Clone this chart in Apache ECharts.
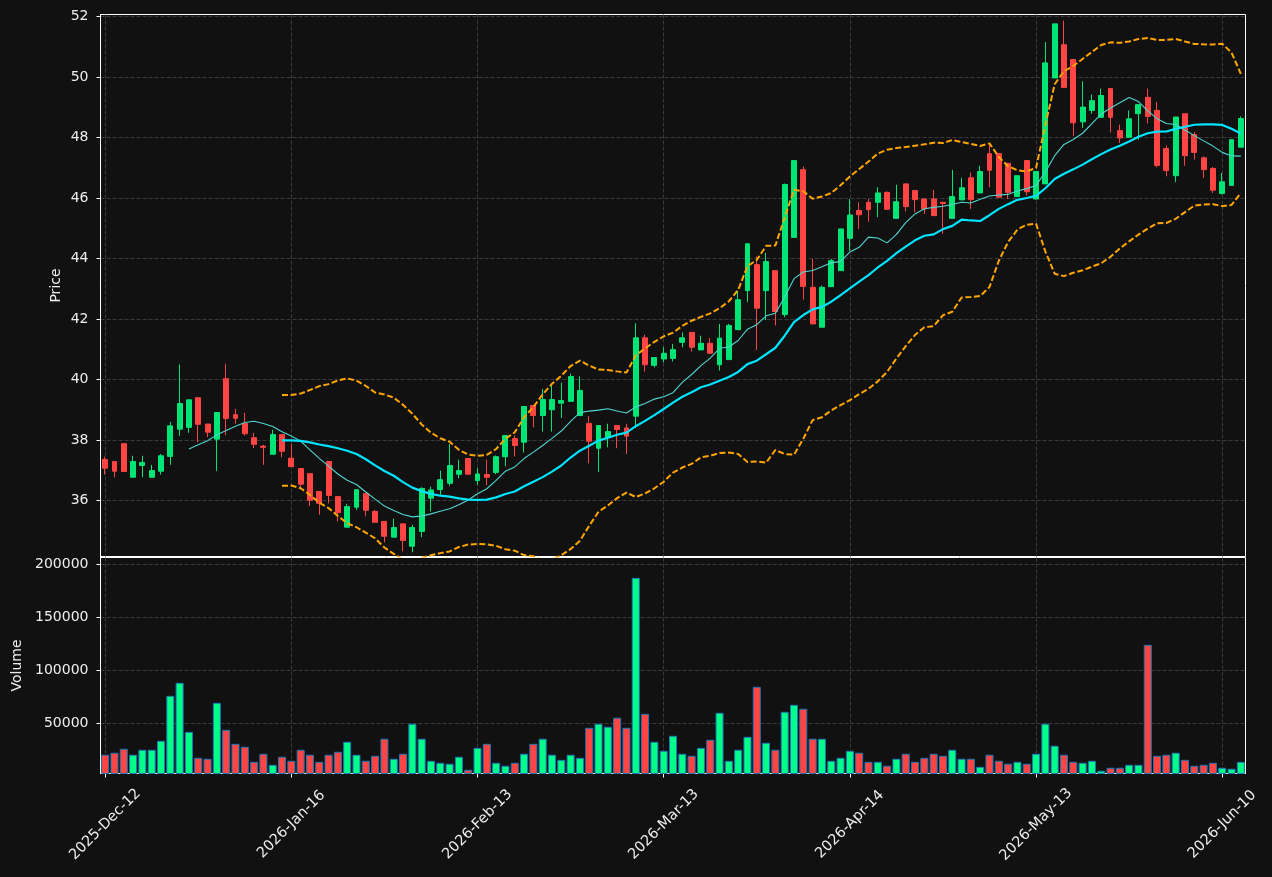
<!DOCTYPE html>
<html>
<head>
<meta charset="utf-8">
<title>Price and Volume</title>
<script src="https://cdn.jsdelivr.net/npm/echarts@6/dist/echarts.min.js"></script>
<style>
  html, body { margin: 0; padding: 0; background: #111111; }
  #chart { width: 1272px; height: 877px; }
</style>
</head>
<body>
<div id="chart"></div>
<script>
// daily OHLC
const opens = [
  37.36, 37.29, 37.88, 36.77, 37.16, 36.77, 36.97, 37.46, 38.36, 38.42,
  39.40, 38.53, 38.03, 40.03, 38.84, 38.55, 38.08, 37.80, 37.53, 38.18,
  37.40, 37.06, 36.89, 36.30, 37.29, 36.13, 35.12, 35.78, 36.23, 35.64,
  35.31, 34.79, 35.23, 34.49, 34.98, 36.08, 36.36, 36.57, 36.87, 37.39,
  36.66, 36.86, 36.93, 37.45, 38.05, 37.93, 39.14, 38.81, 39.00, 39.22,
  39.28, 38.81, 38.55, 37.73, 38.09, 38.48, 38.40, 38.79, 41.38, 40.47,
  40.68, 40.70, 41.23, 41.56, 40.98, 41.20, 40.49, 40.66, 41.65, 42.94,
  43.80, 42.94, 43.60, 42.15, 44.70, 46.94, 43.05, 41.73, 43.07, 43.60,
  44.67, 45.59, 45.86, 45.86, 46.19, 45.33, 46.47, 46.25, 45.97, 45.97,
  45.86, 45.33, 45.94, 46.67, 46.17, 47.47, 47.47, 47.15, 46.05, 47.24,
  45.97, 46.47, 49.97, 51.07, 50.58, 48.52, 48.90, 48.67, 49.62, 48.23,
  48.01, 48.79, 49.33, 48.90, 47.64, 46.74, 48.79, 48.10, 47.33, 46.98,
  46.15, 46.42, 47.68
];
const highs = [
  37.45, 37.30, 37.88, 37.48, 37.48, 37.18, 37.54, 38.60, 40.50, 39.33,
  39.40, 38.53, 38.91, 40.52, 39.03, 38.90, 38.24, 37.84, 38.34, 38.18,
  37.87, 37.06, 36.89, 36.30, 37.29, 36.13, 35.89, 36.36, 36.23, 35.69,
  35.31, 35.40, 35.23, 35.20, 36.44, 36.46, 36.99, 37.87, 37.35, 37.39,
  37.07, 37.35, 37.49, 38.15, 38.15, 39.11, 39.14, 39.69, 39.86, 39.90,
  40.19, 40.10, 38.79, 38.48, 38.54, 38.48, 38.54, 41.86, 41.48, 40.74,
  41.07, 41.18, 41.56, 41.56, 41.45, 41.38, 41.84, 41.84, 42.94, 44.49,
  44.07, 44.19, 43.60, 46.48, 47.24, 47.04, 43.99, 43.11, 43.99, 44.98,
  45.97, 45.86, 45.97, 46.36, 46.22, 46.44, 46.47, 46.25, 45.97, 46.27,
  45.86, 46.93, 46.67, 46.85, 47.07, 47.79, 47.47, 47.15, 46.74, 47.24,
  46.88, 51.16, 51.76, 51.87, 50.58, 49.86, 49.42, 49.62, 49.62, 48.43,
  48.90, 49.09, 49.62, 49.18, 47.74, 48.68, 48.79, 48.19, 47.38, 47.03,
  46.83, 47.93, 48.70
];
const lows = [
  36.86, 36.77, 36.94, 36.77, 36.77, 36.77, 36.86, 37.18, 38.14, 38.24,
  37.93, 38.10, 36.98, 38.16, 38.54, 38.15, 37.73, 37.18, 37.53, 37.43,
  37.12, 36.39, 35.82, 35.53, 35.91, 35.31, 35.12, 35.69, 35.48, 35.28,
  34.62, 34.79, 34.32, 34.29, 34.79, 35.64, 36.19, 36.49, 36.74, 36.87,
  36.52, 36.50, 36.87, 37.13, 37.46, 37.59, 38.42, 38.28, 38.28, 38.73,
  39.28, 38.81, 37.23, 36.94, 37.76, 37.73, 37.54, 38.40, 40.26, 40.40,
  40.57, 40.60, 41.07, 40.93, 40.98, 40.87, 40.30, 40.66, 41.65, 42.56,
  40.98, 41.97, 41.79, 42.06, 44.70, 42.64, 41.84, 41.73, 43.07, 43.60,
  44.26, 44.98, 45.22, 45.37, 45.61, 45.33, 45.56, 45.53, 45.48, 45.42,
  44.82, 45.33, 45.94, 45.64, 46.17, 46.36, 46.00, 45.97, 46.05, 46.08,
  45.95, 46.47, 49.97, 49.66, 48.05, 48.32, 48.79, 48.67, 48.17, 47.82,
  48.01, 47.93, 48.47, 47.02, 46.72, 46.53, 47.07, 47.27, 46.67, 46.17,
  46.12, 46.42, 47.68
];
const closes = [
  37.07, 36.97, 36.96, 37.29, 37.26, 36.99, 37.48, 38.47, 39.21, 39.33,
  38.52, 38.26, 38.91, 38.71, 38.72, 38.21, 37.86, 37.76, 38.18, 37.63,
  37.12, 36.54, 36.01, 35.91, 36.17, 35.60, 35.80, 36.36, 35.68, 35.28,
  34.82, 35.11, 34.68, 35.11, 36.40, 36.35, 36.69, 37.16, 36.99, 36.87,
  36.88, 36.77, 37.45, 38.15, 37.82, 39.11, 38.81, 39.34, 39.34, 39.31,
  40.10, 39.64, 37.96, 38.48, 38.28, 38.35, 38.13, 41.38, 40.49, 40.73,
  40.87, 40.99, 41.38, 41.07, 41.20, 40.87, 41.37, 41.79, 42.64, 44.49,
  42.36, 43.90, 42.25, 46.45, 47.24, 43.08, 41.84, 43.05, 43.93, 44.98,
  45.44, 45.45, 45.62, 46.17, 45.63, 45.88, 45.72, 45.95, 45.64, 45.42,
  45.82, 46.05, 46.34, 45.95, 46.88, 46.92, 46.03, 46.19, 46.74, 46.21,
  46.88, 50.47, 51.76, 49.66, 48.49, 49.01, 49.22, 49.39, 48.67, 47.99,
  48.62, 49.09, 48.70, 47.08, 46.91, 48.68, 47.40, 47.51, 46.94, 46.26,
  46.54, 47.93, 48.63
];
const volumes = [
  20500, 22400, 26100, 20500, 25200, 25200, 33700, 76100, 88400, 42100,
  17600, 16700, 69500, 44000, 30800, 28000, 13800, 21400, 11000, 18600,
  14800, 25200, 20500, 13800, 20500, 23300, 32700, 20500, 14800, 19500,
  35600, 16700, 21400, 49700, 35600, 14800, 12900, 12000, 18600, 6300,
  27000, 30800, 12900, 10100, 12900, 21400, 30800, 35600, 20500, 15700,
  20500, 17600, 45900, 49700, 46900, 55400, 45900, 187400, 59100, 32700,
  24200, 38400, 21400, 19500, 27000, 34600, 60100, 14800, 25200, 37400,
  84600, 31800, 25200, 61000, 67600, 63900, 35600, 35600, 14800, 17600,
  24200, 22400, 13800, 13800, 10100, 16700, 21400, 13800, 17600, 21400,
  19500, 25200, 16700, 16700, 9100, 20500, 14800, 12000, 13800, 12000,
  21400, 49700, 29000, 20500, 13800, 12900, 14800, 5400, 8200, 8200,
  11000, 11000, 124200, 19500, 20500, 22400, 15700, 10100, 11000, 12900,
  8200, 7300, 13800
];

// trading days: weekdays from 2025-12-12, minus market closures
const closedDays = ['2025-12-24', '2025-12-25', '2025-12-26', '2025-12-31', '2026-01-01',
                    '2026-04-03', '2026-04-06', '2026-05-01'];
const monthNames = ['Jan', 'Feb', 'Mar', 'Apr', 'May', 'Jun', 'Jul', 'Aug', 'Sep', 'Oct', 'Nov', 'Dec'];
const dates = [];
const day = new Date(Date.UTC(2025, 11, 12));
while (dates.length < closes.length) {
    const iso = day.toISOString().slice(0, 10);
    const wd = day.getUTCDay();
    if (wd !== 0 && wd !== 6 && closedDays.indexOf(iso) < 0) {
        dates.push(day.getUTCFullYear() + '-' + monthNames[day.getUTCMonth()] + '-' +
                   String(day.getUTCDate()).padStart(2, '0'));
    }
    day.setUTCDate(day.getUTCDate() + 1);
}

const UP = '#00e676';
const DOWN = '#ff4444';
const VOL_UP = '#00ff88';
const VOL_DOWN = '#ff4444';
const TEXT = '#eeeeee';
const FONT = 'DejaVu Sans';

// moving average / bollinger from closes
function sma(n) {
    return closes.map((c, i) => {
        if (i < n - 1) return null;
        let s = 0;
        for (let k = i - n + 1; k <= i; k++) s += closes[k];
        return +(s / n).toFixed(3);
    });
}
function band(n, mult) {
    const mid = sma(n);
    return closes.map((c, i) => {
        if (mid[i] === null) return null;
        let v = 0;
        for (let k = i - n + 1; k <= i; k++) v += (closes[k] - mid[i]) ** 2;
        return +(mid[i] + mult * Math.sqrt(v / n)).toFixed(3);
    });
}
const ma10 = sma(10);
const ma20 = sma(20);
const bbUpper = band(20, 2);
const bbLower = band(20, -2);

const chart = echarts.init(document.getElementById('chart'));

const gridLine = {
    show: true, showMinLine: false, showMaxLine: false,
    lineStyle: { color: '#3a3a3a', type: [4, 2], width: 1 }
};
const xSplit = { show: true, interval: 19, alignWithLabel: true, lineStyle: { color: '#3a3a3a', type: [4, 2], width: 1 } };

const option = {
    backgroundColor: '#111111',
    animation: false,
    textStyle: { fontFamily: FONT },
    grid: [
        { left: 100.5, top: 14.5, width: 1145, height: 542, show: true, borderColor: '#ffffff', borderWidth: 1, containLabel: false },
        { left: 100.5, top: 557.5, width: 1145, height: 216, show: true, borderColor: '#ffffff', borderWidth: 1, containLabel: false }
    ],
    xAxis: [
        {
            type: 'category', gridIndex: 0, data: dates, boundaryGap: true,
            axisLine: { show: false },
            axisTick: { show: false, interval: 19, alignWithLabel: true },
            axisLabel: { show: false },
            splitLine: xSplit
        },
        {
            type: 'category', gridIndex: 1, data: dates, boundaryGap: true,
            axisLine: { show: true, lineStyle: { color: '#ffffff' } },
            axisTick: { show: true, interval: 19, alignWithLabel: true, length: 4, lineStyle: { color: '#ffffff' } },
            axisLabel: {
                interval: 19, rotate: 45, align: 'center', verticalAlign: 'middle', margin: 51,
                color: TEXT, fontSize: 14.5, fontFamily: FONT
            },
            splitLine: xSplit
        }
    ],
    yAxis: [
        {
            type: 'value', gridIndex: 0, min: 34.15, max: 52.07, splitNumber: 9, scale: true,
            name: 'Price', nameLocation: 'middle', nameGap: 37, nameMoveOverlap: false,
            nameTextStyle: { color: TEXT, fontSize: 14, fontFamily: FONT },
            axisLine: { show: true, lineStyle: { color: '#ffffff' } },
            axisTick: { show: true, length: 4, lineStyle: { color: '#ffffff' } },
            axisLabel: { color: TEXT, fontSize: 14, fontFamily: FONT, margin: 12, showMinLabel: false, showMaxLabel: false },
            splitLine: gridLine
        },
        {
            type: 'value', gridIndex: 1, min: 2800, max: 206600, splitNumber: 4,
            name: 'Volume', nameLocation: 'middle', nameGap: 76, nameMoveOverlap: false,
            nameTextStyle: { color: TEXT, fontSize: 14, fontFamily: FONT },
            axisLine: { show: true, lineStyle: { color: '#ffffff' } },
            axisTick: { show: true, length: 4, lineStyle: { color: '#ffffff' } },
            axisLabel: {
                color: TEXT, fontSize: 14, fontFamily: FONT, margin: 12, showMinLabel: false, showMaxLabel: false,
                formatter: v => String(v)
            },
            splitLine: gridLine
        }
    ],
    series: [
        {
            name: 'Price', type: 'candlestick', xAxisIndex: 0, yAxisIndex: 0,
            barWidth: '58%',
            data: opens.map((o, i) => [o, closes[i], lows[i], highs[i]]),
            itemStyle: { color: UP, color0: DOWN, borderColor: UP, borderColor0: DOWN, borderWidth: 1 },
            z: 2
        },
        {
            name: 'MA10', type: 'line', xAxisIndex: 0, yAxisIndex: 0, data: ma10,
            showSymbol: false, symbol: 'none', smooth: false,
            lineStyle: { color: '#4fd6cf', width: 1.1 }, z: 3
        },
        {
            name: 'MA20', type: 'line', xAxisIndex: 0, yAxisIndex: 0, data: ma20,
            showSymbol: false, symbol: 'none',
            lineStyle: { color: '#00e5ff', width: 2.2 }, z: 4
        },
        {
            name: 'BB Upper', type: 'line', xAxisIndex: 0, yAxisIndex: 0, data: bbUpper,
            showSymbol: false, symbol: 'none',
            lineStyle: { color: '#ffa500', width: 2, type: [6, 2.6] }, z: 4
        },
        {
            name: 'BB Lower', type: 'line', xAxisIndex: 0, yAxisIndex: 0, data: bbLower,
            showSymbol: false, symbol: 'none',
            lineStyle: { color: '#ffa500', width: 2, type: [6, 2.6] }, z: 4
        },
        {
            name: 'Volume', type: 'bar', xAxisIndex: 1, yAxisIndex: 1,
            barWidth: '86%', clip: true,
            data: volumes.map((v, i) => ({
                value: v,
                itemStyle: { color: closes[i] >= opens[i] ? VOL_UP : VOL_DOWN }
            })),
            itemStyle: { borderColor: '#1f77b4', borderWidth: 1 }
        }
    ]
};

chart.setOption(option);
</script>
</body>
</html>
